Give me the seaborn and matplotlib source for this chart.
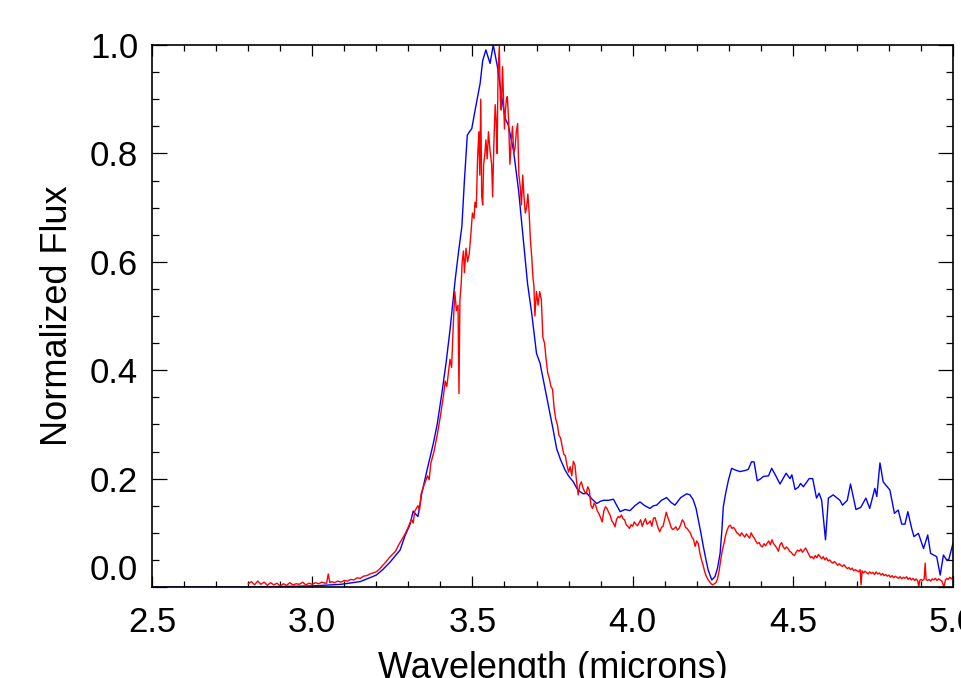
import numpy as np
import matplotlib
matplotlib.use("Agg")
import matplotlib.pyplot as plt
from matplotlib.ticker import MultipleLocator
import seaborn as sns

# Smooth (model) spectrum, blue
blue_wave = [2.50, 2.80, 3.00, 3.09, 3.15, 3.20, 3.22, 3.243, 3.26, 3.274, 3.29, 3.305,
             3.315, 3.322, 3.33, 3.342, 3.36, 3.378, 3.39, 3.404, 3.418, 3.43, 3.446,
             3.457, 3.467, 3.475, 3.484, 3.498, 3.51, 3.524, 3.532, 3.542, 3.555, 3.565,
             3.578, 3.591, 3.602, 3.612, 3.628, 3.644, 3.659, 3.672, 3.685, 3.70, 3.711,
             3.722, 3.732, 3.742, 3.752, 3.763, 3.775, 3.789, 3.80, 3.815, 3.826, 3.836,
             3.846, 3.857, 3.872, 3.888, 3.899, 3.909, 3.925, 3.94, 3.951, 3.961, 3.976,
             3.992, 4.007, 4.023, 4.038, 4.054, 4.065, 4.075, 4.09, 4.106, 4.12, 4.132,
             4.15, 4.169, 4.179, 4.189, 4.198, 4.205, 4.213, 4.221, 4.229, 4.236, 4.247,
             4.257, 4.265, 4.273, 4.278, 4.283, 4.291, 4.299, 4.309, 4.32, 4.335, 4.351,
             4.361, 4.371, 4.379, 4.389, 4.398, 4.408, 4.424, 4.434, 4.447, 4.46, 4.479,
             4.491, 4.497, 4.507, 4.517, 4.524, 4.533, 4.551, 4.562, 4.574, 4.582, 4.59,
             4.602, 4.611, 4.626, 4.647, 4.655, 4.67, 4.68, 4.697, 4.712, 4.728, 4.74,
             4.756, 4.762, 4.772, 4.782, 4.803, 4.817, 4.829, 4.84, 4.85, 4.859, 4.871,
             4.878, 4.892, 4.908, 4.921, 4.93, 4.949, 4.96, 4.97, 4.98, 4.987, 4.993, 5.0]
blue_flux = [0.0, 0.0, 0.002, 0.005, 0.010, 0.022, 0.032, 0.046, 0.058, 0.068, 0.095, 0.115,
             0.140, 0.135, 0.130, 0.173, 0.220, 0.265, 0.300, 0.355, 0.415, 0.474, 0.566,
             0.620, 0.665, 0.750, 0.834, 0.846, 0.885, 0.929, 0.971, 0.991, 0.966, 1.0,
             0.960, 0.905, 0.865, 0.852, 0.806, 0.732, 0.640, 0.560, 0.505, 0.431, 0.413,
             0.380, 0.351, 0.320, 0.290, 0.255, 0.235, 0.216, 0.205, 0.194, 0.182, 0.176,
             0.172, 0.173, 0.163, 0.154, 0.158, 0.160, 0.160, 0.162, 0.150, 0.139, 0.143,
             0.141, 0.150, 0.157, 0.150, 0.145, 0.150, 0.151, 0.160, 0.165, 0.156, 0.151,
             0.165, 0.172, 0.170, 0.161, 0.145, 0.124, 0.100, 0.074, 0.050, 0.031, 0.013,
             0.019, 0.035, 0.062, 0.100, 0.148, 0.175, 0.197, 0.219, 0.216, 0.213, 0.215,
             0.217, 0.231, 0.231, 0.196, 0.199, 0.204, 0.205, 0.219, 0.205, 0.190, 0.210,
             0.200, 0.207, 0.180, 0.184, 0.191, 0.185, 0.200, 0.200, 0.164, 0.173, 0.160,
             0.087, 0.164, 0.170, 0.160, 0.151, 0.160, 0.190, 0.143, 0.147, 0.164, 0.145,
             0.182, 0.167, 0.229, 0.194, 0.179, 0.136, 0.142, 0.116, 0.116, 0.139, 0.108,
             0.093, 0.099, 0.071, 0.096, 0.062, 0.056, 0.022, 0.059, 0.050, 0.051, 0.065, 0.081]

# Observed spectrum, red
red_wave = [2.80, 2.81, 2.82, 2.83, 2.84, 2.85, 2.86, 2.87, 2.88, 2.89, 2.90, 2.91, 2.92,
            2.93, 2.94, 2.95, 2.96, 2.97, 2.98, 2.99, 3.00, 3.01, 3.02, 3.03, 3.04, 3.045,
            3.05, 3.055, 3.06, 3.07, 3.08, 3.09, 3.10, 3.11, 3.12, 3.13, 3.14, 3.15, 3.16,
            3.17, 3.18, 3.19, 3.20, 3.21, 3.22, 3.23, 3.24, 3.25, 3.26, 3.27, 3.28, 3.29,
            3.30, 3.31, 3.315, 3.32, 3.33, 3.335, 3.34, 3.35, 3.36, 3.365, 3.37, 3.38, 3.39,
            3.40, 3.41, 3.415, 3.42, 3.425, 3.43, 3.435, 3.44, 3.445, 3.45, 3.455, 3.458,
            3.461, 3.465, 3.468, 3.472, 3.475, 3.48, 3.485, 3.49, 3.495, 3.50, 3.505, 3.508,
            3.512, 3.516, 3.52, 3.523, 3.526, 3.529, 3.532, 3.535, 3.539, 3.542, 3.546,
            3.55, 3.555, 3.56, 3.563, 3.567, 3.571, 3.574, 3.577, 3.58, 3.584, 3.587, 3.59,
            3.594, 3.597, 3.60, 3.603, 3.606, 3.609, 3.613, 3.617, 3.621, 3.625, 3.629,
            3.633, 3.637, 3.641, 3.645, 3.649, 3.653, 3.657, 3.661, 3.665, 3.669, 3.673,
            3.677, 3.681, 3.685, 3.689, 3.692, 3.695, 3.70, 3.705, 3.71, 3.715, 3.72, 3.725,
            3.73, 3.735, 3.74, 3.745, 3.75, 3.755, 3.76, 3.765, 3.77, 3.775, 3.78, 3.785,
            3.79, 3.795, 3.80, 3.805, 3.81, 3.815, 3.82, 3.825, 3.83, 3.835, 3.84, 3.845,
            3.85, 3.855, 3.86, 3.865, 3.87, 3.875, 3.88, 3.885, 3.89, 3.895, 3.90, 3.905,
            3.91, 3.915, 3.92, 3.925, 3.93, 3.935, 3.94, 3.945, 3.95, 3.955, 3.96, 3.965,
            3.97, 3.975, 3.98, 3.985, 3.99, 3.995, 4.00, 4.005, 4.01, 4.015, 4.02, 4.025,
            4.03, 4.035, 4.04, 4.045, 4.05, 4.055, 4.06, 4.065, 4.07, 4.075, 4.08, 4.085,
            4.09, 4.095, 4.10, 4.105, 4.11, 4.115, 4.12, 4.125, 4.13, 4.135, 4.14, 4.145,
            4.15, 4.155, 4.16, 4.165, 4.17, 4.175, 4.18, 4.185, 4.19, 4.195, 4.20, 4.205,
            4.21, 4.215, 4.22, 4.225, 4.23, 4.235, 4.24, 4.245, 4.25, 4.255, 4.26, 4.265,
            4.27, 4.275, 4.28, 4.285, 4.29, 4.295, 4.30, 4.305, 4.31, 4.315, 4.32, 4.325,
            4.33, 4.335, 4.34, 4.345, 4.35, 4.355, 4.36, 4.365, 4.37, 4.375, 4.38, 4.385,
            4.39, 4.395, 4.40, 4.405, 4.41, 4.415, 4.42, 4.425, 4.43, 4.435, 4.44, 4.445,
            4.45, 4.455, 4.46, 4.465, 4.47, 4.475, 4.48, 4.485, 4.49, 4.495, 4.50, 4.505,
            4.51, 4.515, 4.52, 4.525, 4.53, 4.535, 4.54, 4.545, 4.55, 4.555, 4.56, 4.565,
            4.57, 4.575, 4.58, 4.585, 4.59, 4.595, 4.60, 4.605, 4.61, 4.615, 4.62, 4.625,
            4.63, 4.635, 4.64, 4.645, 4.65, 4.655, 4.66, 4.665, 4.67, 4.675, 4.68, 4.685,
            4.69, 4.695, 4.70, 4.705, 4.71, 4.713, 4.716, 4.72, 4.725, 4.73, 4.735, 4.74,
            4.745, 4.75, 4.755, 4.76, 4.765, 4.77, 4.775, 4.78, 4.785, 4.79, 4.795, 4.80,
            4.805, 4.81, 4.815, 4.82, 4.825, 4.83, 4.835, 4.84, 4.845, 4.85, 4.855, 4.86,
            4.865, 4.87, 4.875, 4.88, 4.885, 4.89, 4.893, 4.896, 4.90, 4.905, 4.91, 4.913,
            4.916, 4.92, 4.925, 4.93, 4.935, 4.94, 4.945, 4.95, 4.955, 4.96, 4.965, 4.972,
            4.976, 4.98, 4.985, 4.99, 4.995, 5.00]
red_flux = [0.006, 0.010, 0.004, 0.011, 0.005, 0.009, 0.003, 0.008, 0.004, 0.007, 0.002, 0.006, 0.003,
            0.008, 0.004, 0.006, 0.005, 0.009, 0.004, 0.007, 0.005, 0.008, 0.006, 0.009, 0.007, 0.007,
            0.024, 0.008, 0.010, 0.008, 0.011, 0.009, 0.012, 0.011, 0.014, 0.013, 0.017, 0.016, 0.020,
            0.021, 0.024, 0.026, 0.028, 0.033, 0.040, 0.046, 0.054, 0.060, 0.066, 0.078, 0.088, 0.098,
            0.111, 0.125, 0.118, 0.140, 0.150, 0.142, 0.172, 0.190, 0.205, 0.198, 0.228, 0.250, 0.280,
            0.315, 0.355, 0.380, 0.370, 0.395, 0.420, 0.405, 0.480, 0.545, 0.510, 0.520, 0.357,
            0.530, 0.560, 0.600, 0.620, 0.580, 0.625, 0.600, 0.615, 0.650, 0.690, 0.680, 0.710,
            0.700, 0.790, 0.840, 0.760, 0.900, 0.720, 0.705, 0.780, 0.800, 0.825, 0.790,
            0.840, 0.805, 0.780, 0.720, 0.820, 0.890, 0.860, 0.800, 0.950, 0.998, 0.900, 0.880,
            0.960, 0.900, 0.845, 0.880, 0.900, 0.905, 0.860, 0.780, 0.820, 0.850, 0.800,
            0.810, 0.840, 0.855, 0.760, 0.740, 0.705, 0.760, 0.720, 0.690, 0.700, 0.725,
            0.690, 0.640, 0.610, 0.570, 0.555, 0.500, 0.545, 0.520, 0.545, 0.530, 0.460, 0.450,
            0.420, 0.395, 0.385, 0.370, 0.365, 0.330, 0.310, 0.300, 0.280, 0.275, 0.260, 0.245,
            0.242, 0.225, 0.212, 0.222, 0.205, 0.232, 0.225, 0.195, 0.170, 0.188, 0.194, 0.183,
            0.176, 0.172, 0.185, 0.178, 0.150, 0.145, 0.155, 0.150, 0.140, 0.135, 0.128, 0.120,
            0.140, 0.148, 0.145, 0.138, 0.132, 0.122, 0.118, 0.111, 0.125, 0.130, 0.128, 0.133,
            0.126, 0.124, 0.115, 0.112, 0.108, 0.115, 0.112, 0.120, 0.116, 0.113, 0.118, 0.124,
            0.112, 0.120, 0.126, 0.116, 0.118, 0.122, 0.112, 0.127, 0.128, 0.118, 0.108, 0.102,
            0.110, 0.112, 0.125, 0.138, 0.128, 0.120, 0.110, 0.106, 0.108, 0.111, 0.105, 0.108,
            0.115, 0.124, 0.120, 0.110, 0.108, 0.104, 0.100, 0.092, 0.088, 0.075, 0.085, 0.080,
            0.062, 0.050, 0.040, 0.028, 0.020, 0.014, 0.010, 0.006, 0.004, 0.006, 0.008, 0.015,
            0.030, 0.050, 0.068, 0.080, 0.095, 0.105, 0.112, 0.114, 0.108, 0.110, 0.106, 0.100,
            0.098, 0.094, 0.100, 0.096, 0.092, 0.098, 0.094, 0.090, 0.100, 0.094, 0.090, 0.084,
            0.080, 0.082, 0.076, 0.074, 0.080, 0.076, 0.081, 0.085, 0.078, 0.087, 0.080, 0.076,
            0.072, 0.066, 0.078, 0.082, 0.074, 0.070, 0.074, 0.071, 0.066, 0.064, 0.060, 0.058,
            0.064, 0.068, 0.066, 0.070, 0.064, 0.068, 0.072, 0.066, 0.060, 0.054, 0.056, 0.052,
            0.058, 0.054, 0.060, 0.056, 0.052, 0.056, 0.050, 0.054, 0.048, 0.050, 0.046, 0.044,
            0.047, 0.044, 0.040, 0.043, 0.040, 0.038, 0.041, 0.037, 0.034, 0.036, 0.032, 0.035,
            0.030, 0.032, 0.030, 0.028, 0.032, 0.004, 0.030, 0.026, 0.029, 0.027, 0.024, 0.028,
            0.025, 0.027, 0.023, 0.028, 0.024, 0.026, 0.022, 0.025, 0.021, 0.023, 0.020, 0.022,
            0.018, 0.021, 0.017, 0.020, 0.018, 0.016, 0.019, 0.015, 0.018, 0.016, 0.019, 0.014,
            0.017, 0.013, 0.016, 0.012, 0.015, 0.011, 0.0, 0.012, 0.014, 0.012, 0.015, 0.044,
            0.014, 0.012, 0.014, 0.011, 0.015, 0.013, 0.016, 0.012, 0.015, 0.013, 0.011, 0.0,
            0.012, 0.016, 0.014, 0.018, 0.015, 0.019]

sns.set_theme(style="ticks")
plt.rcParams["font.family"] = ["Liberation Sans", "DejaVu Sans"]
plt.rcParams["text.color"] = "black"
plt.rcParams["axes.labelcolor"] = "black"
plt.rcParams["xtick.color"] = "black"
plt.rcParams["ytick.color"] = "black"

fig = plt.figure(figsize=(9.61, 6.78), dpi=100)
ax = fig.add_axes([0.1582, 0.1342, 0.8335, 0.7994])

sns.lineplot(x=blue_wave, y=blue_flux, color="#0000ff", linewidth=1.0, ax=ax)
sns.lineplot(x=red_wave, y=red_flux, color="#ff0000", linewidth=1.0, ax=ax)

ax.set_xlim(2.5, 5.0)
ax.set_ylim(0.0, 1.0)
ax.xaxis.set_major_locator(MultipleLocator(0.5))
ax.xaxis.set_minor_locator(MultipleLocator(0.1))
ax.yaxis.set_major_locator(MultipleLocator(0.2))
ax.yaxis.set_minor_locator(MultipleLocator(0.05))
ax.xaxis.set_major_formatter(plt.FormatStrFormatter("%.1f"))
ax.yaxis.set_major_formatter(plt.FormatStrFormatter("%.1f"))

for s in ax.spines.values():
    s.set_visible(True)
    s.set_linewidth(1.2)
    s.set_color("black")

ax.tick_params(which="both", direction="in", top=True, right=True,
               color="black", labelcolor="black", width=0.9)
ax.tick_params(axis="x", which="major", length=8, labelsize=25, pad=14)
ax.tick_params(axis="x", which="minor", length=4)
ax.tick_params(axis="y", which="major", length=11, labelsize=25, pad=10)
ax.tick_params(axis="y", which="minor", length=5)

ax.set_xlabel("Wavelength (microns)", fontsize=26, color="black")
ax.set_ylabel("Normalized Flux", fontsize=26, color="black")
ax.xaxis.set_label_coords(0.5, -0.118)
ax.yaxis.set_label_coords(-0.096, 0.5)

# the bottom "0.0" label sits above its tick, as in the original
fig.canvas.draw()
for t in ax.yaxis.get_major_ticks():
    if abs(t.get_loc()) < 1e-9:
        t.label1.set_verticalalignment("bottom")

fig.savefig("out.png", dpi=100, facecolor="white")
